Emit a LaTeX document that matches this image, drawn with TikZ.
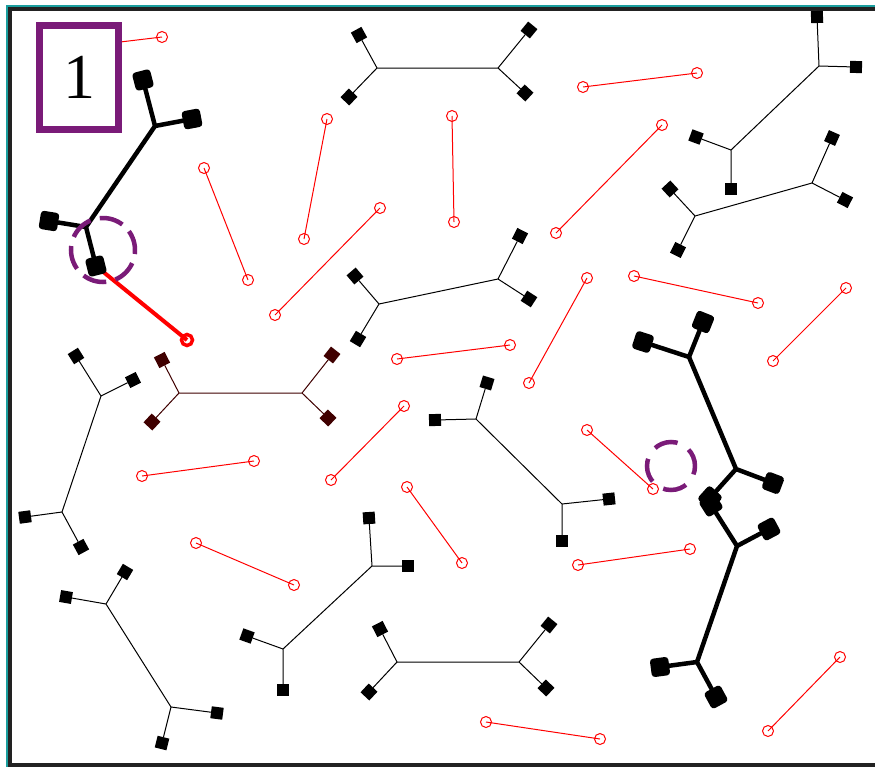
\documentclass[tikz,border=0pt]{standalone}
\usetikzlibrary{calc}
\usepackage{fontspec}
\setmainfont{Liberation Serif}
\definecolor{pur}{RGB}{122,27,120}
\definecolor{brn}{RGB}{64,0,0}
\definecolor{tealc}{RGB}{26,158,158}
\definecolor{frm}{RGB}{34,34,34}
\tikzset{
  thinbond/.style={line width=1pt,black},
  thinsq/.style={rectangle,fill=black,minimum size=12pt,inner sep=0pt},
  brnbond/.style={line width=1pt,brn},
  brnsq/.style={rectangle,fill=brn,minimum size=12pt,inner sep=0pt},
  thickbond/.style={line width=4.5pt,black},
  thicksq/.style={rectangle,fill=black,draw=black,line width=2pt,rounded corners=2.5pt,minimum size=16.5pt,inner sep=0pt},
  rc/.style={circle,draw=red,line width=1pt,minimum size=11pt,inner sep=0pt},
  rl/.style={red,line width=1pt},
  rcthick/.style={circle,draw=red,line width=3.5pt,minimum size=11pt,inner sep=0pt},
  rlthick/.style={red,line width=4pt},
  dcirc/.style={pur,line width=4.5pt},
}
\newcommand\placesq[4]{%
  \path let \p1=#2, \p2=(#3), \n1={atan2(\y1-\y2,\x1-\x2)} in node[#4sq, rotate=\n1] (#1) at (\p1) {};
}
\newcommand\molecule[8]{%
  \coordinate (#1-a) at #3;
  \coordinate (#1-b) at #4;
  \placesq{#1-1}{#5}{#1-a}{#2}
  \placesq{#1-2}{#6}{#1-a}{#2}
  \placesq{#1-3}{#7}{#1-b}{#2}
  \placesq{#1-4}{#8}{#1-b}{#2}
  \draw[#2bond,line cap=round,line join=round] (#1-1) -- (#1-a) -- (#1-2) (#1-a) -- (#1-b) (#1-3) -- (#1-b) -- (#1-4);
}
\newcommand\dimer[3]{%
  \node[rc] (#1-1) at #2 {};
  \node[rc] (#1-2) at #3 {};
  \draw[rl] (#1-1.center) -- (#1-2.center);
}
\begin{document}
\begin{tikzpicture}[x=1pt,y=-1pt]
\useasboundingbox (0,0) rectangle (875,766);
\fill[white] (0,0) rectangle (875,766);
% frame
\draw[tealc,line width=2pt] (6.5,5.5) rectangle (890,780);
\draw[frm,line width=4pt] (10,9) rectangle (880,765);
% red dimers
\dimer{d1}{(70,48)}{(162,37)}
\dimer{d2}{(583,87)}{(697,73)}
\dimer{d3}{(327,119)}{(304,239)}
\dimer{d4}{(452,116)}{(454,222)}
\dimer{d5}{(662,125)}{(556,233)}
\dimer{d6}{(204,168)}{(248,280)}
\dimer{d7}{(380,208)}{(275,315)}
\dimer{d8}{(587,278)}{(529,383)}
\dimer{d9}{(634,276)}{(758,303)}
\dimer{d10}{(846,288)}{(773,361)}
\dimer{d11}{(397,359)}{(510,345)}
\dimer{d12}{(404,406)}{(331,480)}
\dimer{d13}{(142,476)}{(254,461)}
\dimer{d14}{(587,430)}{(653,489)}
\dimer{d15}{(407,487)}{(462,563)}
\dimer{d16}{(196,543)}{(294,585)}
\dimer{d17}{(578,565)}{(690,549)}
\dimer{d18}{(840,657)}{(768,731)}
\dimer{d19}{(486,722)}{(600,739)}
% thick red dimer
\coordinate (rd-1) at (96,266);
\node[rcthick] (rd-2) at (187,340) {};
\draw[rlthick] (rd-1) -- (rd-2.center);
% thin molecules
\molecule{m1}{thin}{(377,68)}{(498,68)}{(359,35)}{(349,97)}{(529,30)}{(525,93)}
\molecule{m2}{thin}{(819,66)}{(731,150)}{(817,17)}{(856,67)}{(696,137)}{(731,189)}
\molecule{m3}{thin}{(695,216)}{(812,183)}{(670,189)}{(678,250)}{(832,138)}{(845,200)}
\molecule{m4}{thin}{(379,304)}{(498,279)}{(355,276)}{(358,339)}{(520,236)}{(529,299)}
\molecule{m5}{brn}{(179,393)}{(302,393)}{(162,360)}{(152,422)}{(332,355)}{(328,418)}
\molecule{m6}{thin}{(101,396)}{(62,512)}{(76,356)}{(133,380)}{(25,517)}{(81,547)}
\molecule{m7}{thin}{(476,419)}{(562,504)}{(487,383)}{(435,420)}{(609,499)}{(562,541)}
\molecule{m8}{thin}{(106,604)}{(171,707)}{(66,597)}{(125,572)}{(217,713)}{(162,743)}
\molecule{m9}{thin}{(372,566)}{(283,649)}{(369,518)}{(408,566)}{(247,636)}{(283,690)}
\molecule{m10}{thin}{(397,662)}{(519,662)}{(380,629)}{(369,692)}{(549,625)}{(546,688)}
% thick molecules
\molecule{t1}{thick}{(155,126)}{(86,227)}{(143,80)}{(192,119)}{(49,221)}{(96,266)}
\molecule{t2}{thick}{(689,357)}{(736,469)}{(703,322)}{(643,342)}{(773,483)}{(710,498)}
\molecule{t3}{thick}{(737,546)}{(697,662)}{(711,505)}{(769,529)}{(660,667)}{(716,697)}
% dashed highlight circles
\node[circle,minimum size=64pt,inner sep=0pt] (hc1) at (103,250) {};
\draw[dcirc,dash pattern=on 24pt off 9.5pt,dash phase=4pt] (hc1.center) circle[radius=32pt];
\node[circle,minimum size=48pt,inner sep=0pt] (hc2) at (671,466) {};
\draw[dcirc,dash pattern=on 24pt off 13pt,dash phase=6pt] (hc2.center) circle[radius=24pt];
% label box
\node[draw=pur,line width=7pt,fill=white,minimum width=79pt,minimum height=104pt,inner sep=0pt,
      font=\fontsize{64}{64}\selectfont] (lbl) at (79,77.5) {1};
\end{tikzpicture}
\end{document}
